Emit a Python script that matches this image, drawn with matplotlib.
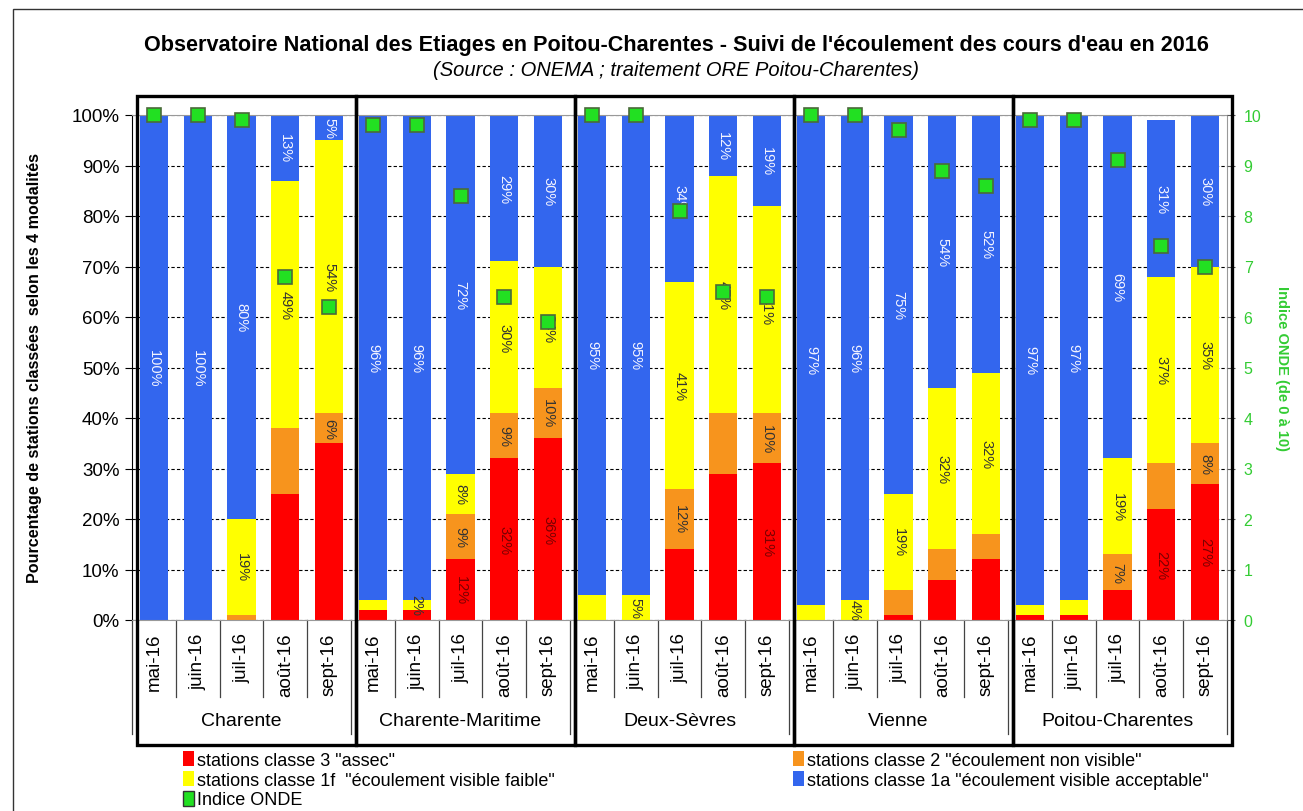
import matplotlib
matplotlib.use("Agg")
import matplotlib.pyplot as plt
import matplotlib.transforms as mtransforms
from matplotlib.patches import Rectangle, Patch
from matplotlib.lines import Line2D
import numpy as np

plt.rcParams['font.family'] = ['Liberation Sans', 'DejaVu Sans']

groups = ["Charente", "Charente-Maritime", "Deux-Sèvres", "Vienne", "Poitou-Charentes"]
months = ["mai-16", "juin-16", "juil-16", "août-16", "sept-16"]

# parts in % (5 months per group, groups in order)
assec = [0, 0, 0, 25, 35,   2, 2, 12, 32, 36,   0, 0, 14, 29, 31,   0, 0, 1, 8, 12,   1, 1, 6, 22, 27]
non_visible = [0, 0, 1, 13, 6,   0, 0, 9, 9, 10,   0, 0, 12, 12, 10,   0, 0, 5, 6, 5,   0, 0, 7, 9, 8]
faible = [0, 0, 19, 49, 54,   2, 2, 8, 30, 24,   5, 5, 41, 47, 41,   3, 4, 19, 32, 32,   2, 3, 19, 37, 35]
acceptable = [100, 100, 80, 13, 5,   96, 96, 71, 29, 30,   95, 95, 33, 12, 18,   97, 96, 75, 54, 51,   97, 96, 68, 31, 30]
indice_onde = [10, 10, 9.9, 6.8, 6.2,   9.8, 9.8, 8.4, 6.4, 5.9,   10, 10, 8.1, 6.5, 6.4,
               10, 10, 9.7, 8.9, 8.6,   9.9, 9.9, 9.1, 7.4, 7.0]

# labels shown on the chart (None = no label)
lab_assec = [None, None, None, None, None,   None, None, "12%", "32%", "36%",   None, None, None, None, "31%",
             None, None, None, None, None,   None, None, None, "22%", "27%"]
lab_non_visible = [None, None, None, None, "6%",   None, None, "9%", "9%", "10%",   None, None, "12%", None, "10%",
                   None, None, None, None, None,   None, None, "7%", None, "8%"]
lab_faible = [None, None, "19%", "49%", "54%",   None, "2%", "8%", "30%", "24%",   None, "5%", "41%", "47%", "41%",
              None, "4%", "19%", "32%", "32%",   None, None, "19%", "37%", "35%"]
lab_acceptable = ["100%", "100%", "80%", "13%", "5%",   "96%", "96%", "72%", "29%", "30%",   "95%", "95%", "34%", "12%", "19%",
                  "97%", "96%", "75%", "54%", "52%",   "97%", "97%", "69%", "31%", "30%"]

c_red = "#ff0000"
c_orange = "#f7941d"
c_yellow = "#ffff00"
c_blue = "#3366ee"
c_green = "#22e022"
c_green_txt = "#33cc33"

W, H = 1303, 812
fig = plt.figure(figsize=(W / 100, H / 100), dpi=100)
ax = fig.add_axes([132 / W, 1 - 621 / H, (1227 - 132) / W, (621 - 116) / H])

x = np.arange(len(assec))
bw = 0.64
series = [(assec, c_red, lab_assec, "#7a0000"),
          (non_visible, c_orange, lab_non_visible, "#333333"),
          (faible, c_yellow, lab_faible, "#333333"),
          (acceptable, c_blue, lab_acceptable, "#f4f4ff")]
bottom = np.zeros(len(x))
for vals, col, labs, tcol in series:
    vals = np.array(vals, dtype=float)
    ax.bar(x, vals, bw, bottom=bottom, color=col, zorder=2)
    for i, lab in enumerate(labs):
        if lab is None:
            continue
        ax.text(x[i], bottom[i] + vals[i] / 2, lab, rotation=-90, ha="center", va="center",
                fontsize=10.5, color=tcol, zorder=3, clip_on=False)
    bottom += vals

ax.set_xlim(-0.5, 24.5)
ax.set_ylim(0, 100)
ax.set_yticks(np.arange(0, 101, 10))
ax.set_yticklabels([f"{v}%" for v in range(0, 101, 10)], fontsize=13.5)
ax.yaxis.grid(True, color="black", linestyle=(0, (3, 2)), linewidth=0.8)
ax.set_axisbelow(True)
ax.tick_params(axis="y", direction="out", length=5, pad=4)
ax.set_xticks(x)
ax.set_xticklabels(months * len(groups), rotation=90, fontsize=13.5, va="top")
ax.tick_params(axis="x", length=0, pad=9)
for s in ["top", "right", "bottom"]:
    ax.spines[s].set_color("#999999")
    ax.spines[s].set_linewidth(0.8)
ax.set_ylabel("Pourcentage de stations classées  selon les 4 modalités", fontsize=11.6,
              fontweight="bold")
ax.yaxis.set_label_coords(-90 / (1227 - 132), 0.5)

ax2 = ax.twinx()
ax2.set_ylim(0, 10)
ax2.set_yticks(range(0, 11))
ax2.tick_params(axis="y", colors="#555555", labelcolor=c_green_txt, labelsize=11.5, length=6, pad=6)
ax2.plot(x, indice_onde, linestyle="none", marker="s", markersize=10,
         markerfacecolor=c_green, markeredgecolor="#4a6a3a", markeredgewidth=1.2, zorder=5, clip_on=False)
ax2.set_ylabel("Indice ONDE (de 0 à 10)", fontsize=10.5, fontweight="bold", color=c_green_txt,
               rotation=-90, labelpad=20)
for s in ax2.spines.values():
    s.set_visible(False)

# group boxes and separators
tr = mtransforms.blended_transform_factory(ax.transData, fig.transFigure)
y_top, y_bot = 1 - 97 / H, 1 - 746 / H
y0 = 1 - 621 / H
for g, name in enumerate(groups):
    xl = 5 * g - 0.38
    fig.patches.append(Rectangle((xl, y_bot), 5, y_top - y_bot, transform=tr, fill=False,
                                 edgecolor="black", linewidth=2.4, zorder=6))
    ax.text(5 * g + 2, 1 - 721 / H, name, transform=tr, ha="center", va="center", fontsize=14)
    for k in range(1, 5):
        ax.add_line(Line2D([5 * g + k - 0.5] * 2, [y0, 1 - 698 / H], transform=tr,
                           color="#444444", linewidth=0.9, clip_on=False))
    ax.add_line(Line2D([5 * g - 0.5] * 2, [y0, 1 - 735 / H], transform=tr,
                       color="#444444", linewidth=0.9, clip_on=False))
ax.add_line(Line2D([24.5] * 2, [y0, 1 - 735 / H], transform=tr,
                   color="#444444", linewidth=0.9, clip_on=False))

# outer frame
fig.patches.append(Rectangle((13 / W, -0.05), 1.1, 1 - 10 / H + 0.05, transform=fig.transFigure,
                             fill=False, edgecolor="#333333", linewidth=1))

fig.text(676 / W, 1 - 45 / H,
         "Observatoire National des Etiages en Poitou-Charentes - Suivi de l'écoulement des cours d'eau en 2016",
         ha="center", va="center", fontsize=15.6, fontweight="bold")
fig.text(676 / W, 1 - 71 / H, "(Source : ONEMA ; traitement ORE Poitou-Charentes)",
         ha="center", va="center", fontsize=14.5, style="italic")

h_red = Patch(facecolor=c_red, label='stations classe 3 "assec"')
h_yel = Patch(facecolor=c_yellow, label='stations classe 1f  "écoulement visible faible"')
h_grn = Patch(facecolor=c_green, edgecolor="#333333", label="Indice ONDE")
h_ora = Patch(facecolor=c_orange, label='stations classe 2 "écoulement non visible"')
h_blu = Patch(facecolor=c_blue, label='stations classe 1a "écoulement visible acceptable"')
leg_kw = dict(frameon=False, fontsize=13, handlelength=0.6, handleheight=0.9, handletextpad=0.2,
              labelspacing=0.12, borderpad=0, borderaxespad=0)
fig.legend(handles=[h_red, h_yel, h_grn], loc="upper left", bbox_to_anchor=(183 / W, 1 - 752 / H), **leg_kw)
fig.legend(handles=[h_ora, h_blu], loc="upper left", bbox_to_anchor=(793 / W, 1 - 752 / H), **leg_kw)

fig.savefig("out.png", dpi=100)
